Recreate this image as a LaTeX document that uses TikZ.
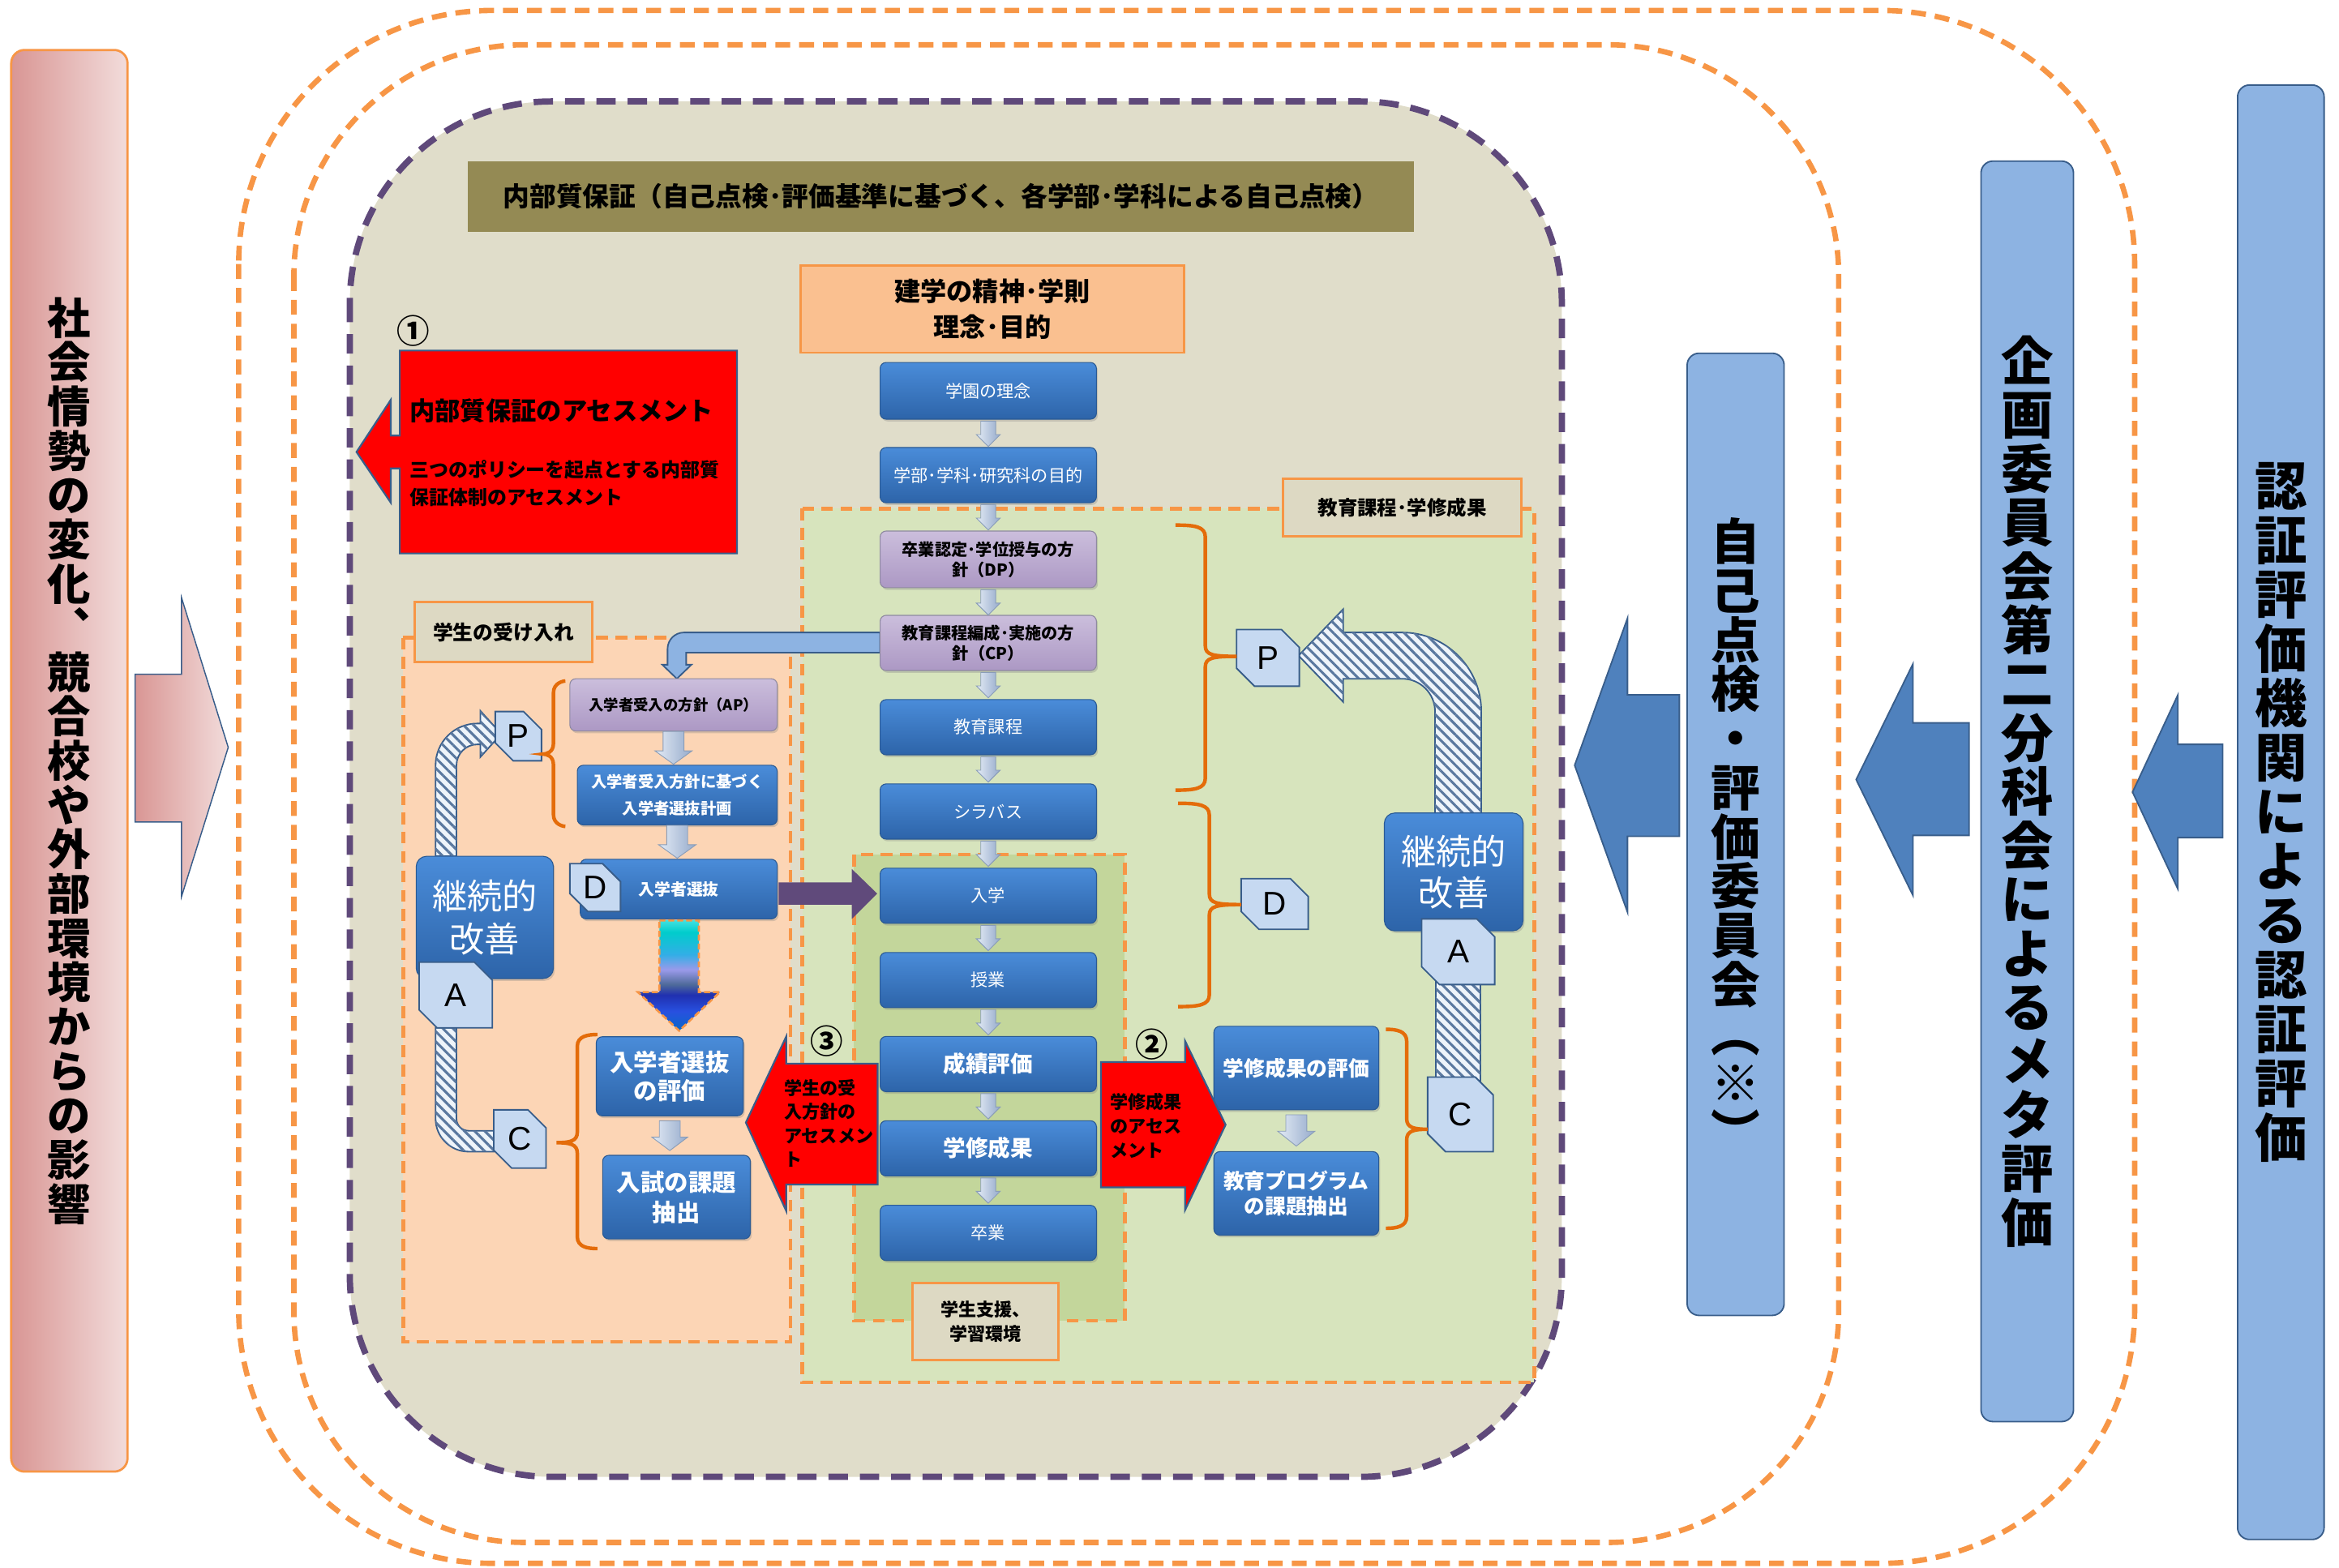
\documentclass[tikz,border=0pt]{standalone}
\usepackage{fontspec}
\setmainfont{Noto Sans CJK JP}
\newfontfamily\latinfont{Liberation Sans}
\usetikzlibrary{calc,shapes.misc,shadows,patterns.meta}
\newcommand\fsz[2]{\fontsize{#1}{#2}\selectfont}

\definecolor{orangeline}{HTML}{F79646}
\definecolor{purpleline}{HTML}{5F497A}
\definecolor{beige}{HTML}{E0DDCA}
\definecolor{labelbeige}{HTML}{DDD9C3}
\definecolor{olive}{HTML}{948A54}
\definecolor{orangefill}{HTML}{FAC090}
\definecolor{peach}{HTML}{FCD5B5}
\definecolor{greenfill}{HTML}{D7E4BD}
\definecolor{greeninner}{HTML}{C3D69B}
\definecolor{boxtop}{HTML}{4A8CD9}
\definecolor{boxbot}{HTML}{2D64A9}
\definecolor{boxline}{HTML}{2A5A94}
\definecolor{lilactop}{HTML}{CBBEDC}
\definecolor{lilacbot}{HTML}{AC98C4}
\definecolor{lilacline}{HTML}{8F8AA0}
\definecolor{tagfill}{HTML}{C6D9F1}
\definecolor{darkblue}{HTML}{385D8A}
\definecolor{barfill}{HTML}{8DB3E2}
\definecolor{arrowblue}{HTML}{4F81BD}
\definecolor{braceorange}{HTML}{E46C0A}
\definecolor{plum}{HTML}{604A7B}
\definecolor{pinkdark}{HTML}{D99694}
\definecolor{pinklight}{HTML}{F2DCDB}
\definecolor{stripe}{HTML}{5A789F}
\definecolor{stripebg}{HTML}{EEF4FA}
\definecolor{smallarrL}{HTML}{E3EBF5}
\definecolor{smallarrR}{HTML}{95AACB}
\definecolor{smallarrline}{HTML}{8A9DB8}
\definecolor{ga1}{HTML}{40E0E0}
\definecolor{ga2}{HTML}{00CCCC}
\definecolor{ga3}{HTML}{33AEE6}
\definecolor{ga4}{HTML}{9A9AEA}
\definecolor{ga5}{HTML}{4E6A9A}
\definecolor{ga6}{HTML}{2030B0}
\definecolor{ga7}{HTML}{2850E0}
\definecolor{ga8}{HTML}{0868C8}

% colour run of the selection arrow, cyan at the top to blue at the tip
\pgfdeclareverticalshading{selgrad}{100bp}{color(0bp)=(ga8); color(25bp)=(ga8); color(33.8bp)=(ga7); color(41.2bp)=(ga6); color(46bp)=(ga5); color(52.7bp)=(ga4); color(59.5bp)=(ga3); color(69.6bp)=(ga2); color(75bp)=(ga1); color(100bp)=(ga1)}

% right curly bracket: hook end x, spine x, nub x, top y, nub y, bottom y
\newcommand\bracketR[6]{\draw[bracestyle] (#1,#4) .. controls (#2-7,#4) and (#2,#4+1) .. (#2,#4+8) -- (#2,#5-7) .. controls (#2,#5-1) and (#2+5,#5) .. (#3,#5) .. controls (#2+5,#5) and (#2,#5+1) .. (#2,#5+7) -- (#2,#6-8) .. controls (#2,#6-1) and (#2-7,#6) .. (#1,#6);}
% left curly bracket, same arguments
\newcommand\bracketL[6]{\draw[bracestyle] (#1,#4) .. controls (#2+7,#4) and (#2,#4+1) .. (#2,#4+8) -- (#2,#5-7) .. controls (#2,#5-1) and (#2-5,#5) .. (#3,#5) .. controls (#2-5,#5) and (#2,#5+1) .. (#2,#5+7) -- (#2,#6-8) .. controls (#2,#6-1) and (#2+7,#6) .. (#1,#6);}

\tikzset{
  pics/downarr/.style args={#1/#2/#3/#4}{code={
    \shadedraw[left color=smallarrL, right color=smallarrR, draw=smallarrline, line width=0.5pt]
      (-#2,0) -- (#2,0) -- (#2,#3) -- (#1,#3) -- (0,#4) -- (-#1,#3) -- (-#2,#3) -- cycle;}}
}

\begin{document}
\begin{tikzpicture}[x=1pt,y=-1pt,
  bluebox/.style={rounded corners=4pt, draw=boxline, line width=0.6pt, top color=boxtop, bottom color=boxbot,
     text=white, inner sep=0pt, align=center,
     drop shadow={opacity=0.3, shadow xshift=1pt, shadow yshift=-1.5pt}},
  lilacbox/.style={rounded corners=4pt, draw=lilacline, line width=0.6pt, top color=lilactop, bottom color=lilacbot,
     text=black, inner sep=0pt, align=center,
     drop shadow={opacity=0.3, shadow xshift=1pt, shadow yshift=-1.5pt}},
  tagbox/.style={chamfered rectangle, chamfered rectangle corners={north east, south west},
     chamfered rectangle xsep=6pt, chamfered rectangle ysep=6pt, fill=tagfill, draw=darkblue,
     line width=1pt, inner sep=0pt, font=\latinfont\fsz{22}{22}},
  labelbox/.style={draw=orangeline, line width=1.6pt, fill=labelbeige, inner sep=0pt, align=center},
  orangedash/.style={draw=orangeline, line width=3.6pt, dash pattern=on 10pt off 6pt},
  regiondash/.style={draw=orangeline, line width=2.4pt, dash pattern=on 8pt off 5pt},
  bracestyle/.style={draw=braceorange, line width=2.4pt},
  bigarrow/.style={fill=arrowblue, draw=darkblue, line width=1pt},
  redshape/.style={fill=red, draw=darkblue, line width=1.2pt},
  stripes/.style={draw=darkblue, line width=1pt, fill=stripebg,
     postaction={pattern color=stripe, pattern={Lines[angle=-45,distance=4.8pt,line width=1.7pt]}}},
  sidebar/.style={rounded corners=8pt, draw=darkblue, line width=1pt, fill=barfill, inner sep=0pt,
     align=center, text=black},
  circnum/.style={inner sep=0pt, font=\bfseries\fsz{22}{22}},
]
\useasboundingbox (0,0) rectangle (1568,1051);

% ---------- outer frames ----------
\draw[orangedash, rounded corners=170pt] (160,7) rectangle (1431,1048);
\draw[orangedash, rounded corners=155pt] (197,30) rectangle (1232.6,1034);
\draw[fill=beige, draw=purpleline, line width=4.2pt, dash pattern=on 13pt off 8pt, rounded corners=135pt]
  (234.5,68) rectangle (1047,990);

% ---------- left influence bar and arrow ----------
\node[rounded corners=9pt, draw=orangeline, line width=1.5pt, left color=pinkdark, right color=pinklight,
      minimum width=78pt, minimum height=953pt, inner sep=0pt, align=center,
      font=\bfseries\fsz{29}{29.7}] (influence) at (46.5,510)
  {社\\会\\情\\勢\\の\\変\\化\\︑\\競\\合\\校\\や\\外\\部\\環\\境\\か\\ら\\の\\影\\響};
\shadedraw[left color=pinkdark, right color=pinklight, draw=darkblue, line width=0.8pt]
  (90.6,452) -- (121.7,452) -- (121.7,400.7) -- (153,501) -- (121.7,601) -- (121.7,551) -- (90.6,551) -- cycle;

% ---------- right side bars and arrows ----------
\node[sidebar, minimum width=65pt, minimum height=645pt, font=\bfseries\fsz{33}{33}] (jiko) at (1163.5,559.3)
  {自\\己\\点\\検\\・\\評\\価\\委\\員\\会\\︵\\※\\︶};
\node[sidebar, minimum width=62pt, minimum height=845pt, font=\bfseries\fsz{35}{36.1}] (kikaku) at (1359,530.5)
  {企\\画\\委\\員\\会\\第\\二\\分\\科\\会\\に\\よ\\る\\メ\\タ\\評\\価};
\node[sidebar, minimum width=58pt, minimum height=975pt, font=\bfseries\fsz{35}{36.4}] (ninsho) at (1529,544.5)
  {認\\証\\評\\価\\機\\関\\に\\よ\\る\\認\\証\\評\\価};
\draw[bigarrow] (1125.8,465.8) -- (1091,465.8) -- (1091,414.5) -- (1055.6,513) -- (1091,611.4) -- (1091,560.6) -- (1125.8,560.6) -- cycle;
\draw[bigarrow] (1320,484.6) -- (1282.4,484.6) -- (1282.4,445) -- (1244.3,522.6) -- (1282.4,600.3) -- (1282.4,560) -- (1320,560) -- cycle;
\draw[bigarrow] (1490,499) -- (1460,499) -- (1460,465.8) -- (1429.6,531) -- (1460,596) -- (1460,561.5) -- (1490,561.5) -- cycle;

% ---------- title ----------
\node[fill=olive, minimum width=634.5pt, minimum height=47.4pt, inner sep=0pt, font=\bfseries\fsz{17.8}{20}] (title) at (630.75,131.7)
  {内部質保証（自己点検･評価基準に基づく、各学部･学科による自己点検）};

% ---------- regions ----------
\draw[regiondash, fill=peach] (270.3,427.5) rectangle (530,899.5);
\draw[regiondash, fill=greenfill] (537.8,341) rectangle (1028.5,926.6);
\draw[regiondash, fill=greeninner] (572.5,573) rectangle (754,885.4);

\node[labelbox, minimum width=119pt, minimum height=40.4pt, font=\bfseries\fsz{13.5}{16}] (ukeire) at (337.5,423.8) {学生の受け入れ};
\node[labelbox, minimum width=160pt, minimum height=38.5pt, font=\bfseries\fsz{13.3}{16}] (kyoiku) at (940,340.3) {教育課程･学修成果};
\node[labelbox, minimum width=98pt, minimum height=51.6pt, font=\bfseries\fsz{12}{16.5}] (shien) at (660.6,885.8) {学生支援、\\学習環境};

% ---------- founding principles ----------
\node[draw=orangeline, line width=1.5pt, fill=orangefill, minimum width=257pt, minimum height=58.5pt,
      inner sep=0pt, align=center, font=\bfseries\fsz{17.5}{24.3}] (kengaku) at (665.3,207.2)
  {建学の精神･学則\\理念･目的};

% ---------- elbow arrow from CP to AP ----------
\draw[fill=barfill, draw=darkblue, line width=1pt]
  (590,424) -- (458.5,424) .. controls (452.4,424) and (447.5,428.9) .. (447.5,435) -- (447.5,445.6)
  -- (444,445.6) -- (453.75,455) -- (463.5,445.6) -- (460,445.6) -- (460,437.5) -- (590,437.5) -- cycle;

% ---------- central column ----------
\node[bluebox, minimum width=145pt, minimum height=38pt, font=\fsz{11.5}{14}] (rinen) at (662.5,262) {学園の理念};
\node[bluebox, minimum width=145pt, minimum height=37pt, font=\fsz{11.5}{14}] (mokuteki) at (662.5,318.5) {学部･学科･研究科の目的};
\node[lilacbox, minimum width=145pt, minimum height=38pt, font=\bfseries\fsz{11}{13.5}] (dp) at (662.5,375) {卒業認定･学位授与の方\\針（DP）};
\node[lilacbox, minimum width=145pt, minimum height=37pt, font=\bfseries\fsz{11}{13.5}] (cp) at (662.5,431) {教育課程編成･実施の方\\針（CP）};
\node[bluebox, minimum width=145pt, minimum height=37pt, font=\fsz{11.5}{14}] (katei) at (662.5,487.5) {教育課程};
\node[bluebox, minimum width=145pt, minimum height=37pt, font=\fsz{11.5}{14}] (syllabus) at (662.5,544) {シラバス};
\node[bluebox, minimum width=145pt, minimum height=37pt, font=\fsz{11.5}{14}] (nyugaku) at (662.5,600.5) {入学};
\node[bluebox, minimum width=145pt, minimum height=37pt, font=\fsz{11.5}{14}] (jugyo) at (662.5,657) {授業};
\node[bluebox, minimum width=145pt, minimum height=37pt, font=\bfseries\fsz{15}{18}] (seiseki) at (662.5,713.3) {成績評価};
\node[bluebox, minimum width=145pt, minimum height=37pt, font=\bfseries\fsz{15}{18}] (seika) at (662.5,769.8) {学修成果};
\node[bluebox, minimum width=145pt, minimum height=37pt, font=\fsz{11.5}{14}] (sotsugyo) at (662.5,826.5) {卒業};
\foreach \a/\b in {rinen/mokuteki, mokuteki/dp, dp/cp, cp/katei, katei/syllabus, syllabus/nyugaku,
                   nyugaku/jugyo, jugyo/seiseki, seiseki/seika, seika/sotsugyo}
  \pic at ($(\a.south)+(0,1)$) {downarr=8/5/9/17};

% ---------- admissions column ----------
\node[lilacbox, minimum width=139pt, minimum height=35pt, font=\bfseries\fsz{10}{12}] (ap) at (451.5,472.5) {入学者受入の方針（AP）};
\node[bluebox, minimum width=134pt, minimum height=40pt, font=\bfseries\fsz{10.5}{18}] (keikaku) at (454,533) {入学者受入方針に基づく\\入学者選抜計画};
\node[bluebox, minimum width=132pt, minimum height=40pt, font=\bfseries\fsz{10.8}{13}] (senbatsu) at (455,596) {入学者選抜};
\pic at (ap.south) {downarr=12.5/7/13/22};
\pic at (keikaku.south) {downarr=12.5/7/13/22};

\shadedraw[shading=selgrad, draw=orangeline, line width=1.4pt, dash pattern=on 4pt off 2pt]
  (442,617) -- (468.5,617) -- (468.5,665) -- (482.7,665) -- (455.3,691) -- (427.5,665) -- (442,665) -- cycle;

\node[bluebox, minimum width=98.5pt, minimum height=53pt, font=\bfseries\fsz{16}{19}] (hyouka) at (449,721.5) {入学者選抜\\の評価};
\node[bluebox, minimum width=99pt, minimum height=56pt, font=\bfseries\fsz{16}{20}] (kadai) at (453.5,802.5) {入試の課題\\抽出};
\pic at ($(hyouka.south)+(0,3)$) {downarr=12/7/11/20};

% admissions to enrolment
\fill[plum] (522,591.5) -- (571,591.5) -- (571,582.5) -- (588,599) -- (571,616) -- (571,606.5) -- (522,606.5) -- cycle;

% ---------- learning outcome review ----------
\node[bluebox, minimum width=110.5pt, minimum height=56pt, font=\bfseries\fsz{14}{17}] (gkhyouka) at (869,716) {学修成果の評価};
\node[bluebox, minimum width=110.5pt, minimum height=56pt, font=\bfseries\fsz{14}{17.2}] (program) at (869,800) {教育プログラム\\の課題抽出};
\pic at ($(gkhyouka.south)+(0,3)$) {downarr=12.5/7/11/21};

% ---------- PDCA cycle, admissions side ----------
\path[stripes] (292,574) -- (292,513) .. controls (292,497.5) and (304.5,485) .. (320,485) -- (322,485)
  -- (322,476.5) -- (336,492) -- (322,507.5) -- (322,499) -- (320,499)
  .. controls (312.3,499) and (306,505.3) .. (306,513) -- (306,574) -- cycle;
\path[stripes] (292,689) -- (292,750) .. controls (292,762.1) and (301.9,772) .. (314,772) -- (331,772)
  -- (331,758) -- (314,758) .. controls (309.6,758) and (306,754.4) .. (306,750) -- (306,689) -- cycle;
\node[bluebox, rounded corners=7pt, minimum width=92pt, minimum height=82pt, font=\fsz{23.5}{29}] (kaizenL) at (325,615) {継続的\\改善};
\node[tagbox, minimum width=31pt, minimum height=33pt] (PL) at (347.5,493.5) {P};
\node[tagbox, minimum width=34pt, minimum height=32pt] (DL) at (399,595) {D};
\node[tagbox, minimum width=49pt, minimum height=44pt] (AL) at (305.5,667) {A};
\node[tagbox, minimum width=35pt, minimum height=39pt] (CL) at (348.5,763.5) {C};
\bracketL{379}{371}{364}{456.5}{505.5}{554}
\bracketL{400.5}{387}{373}{693.5}{766}{837}

% ---------- PDCA cycle, curriculum side ----------
\path[stripes] (962,545) -- (962,477) .. controls (962,464.9) and (952.1,455) .. (940,455) -- (900.4,455)
  -- (900.4,470.5) -- (870.5,439.5) -- (900.4,408.4) -- (900.4,424) -- (940,424)
  .. controls (969.3,424) and (993,447.7) .. (993,477) -- (993,545) -- cycle;
\path[stripes] (962.4,655) rectangle (992.4,725);
\node[bluebox, rounded corners=7pt, minimum width=93pt, minimum height=79pt, font=\fsz{23.5}{28}] (kaizenR) at (974.5,584.5) {継続的\\改善};
\node[tagbox, minimum width=42pt, minimum height=38pt] (PR) at (850,441) {P};
\node[tagbox, minimum width=45pt, minimum height=34pt] (DR) at (854.5,606) {D};
\node[tagbox, minimum width=49pt, minimum height=44pt] (AR) at (977.5,638) {A};
\node[tagbox, minimum width=44pt, minimum height=50pt] (CR) at (979,747) {C};
\bracketR{788}{808}{829}{352}{440}{529.7}
\bracketR{789.7}{810.7}{832}{538.5}{606.4}{674.8}
\bracketR{929}{943}{957}{690}{757}{823.4}

% ---------- assessment arrows ----------
\draw[redshape] (268,235) -- (494,235) -- (494,371) -- (268,371) -- (268,314) -- (262,314) -- (262,337)
  -- (239,303) -- (262,268) -- (262,292) -- (268,292) -- cycle;
\node[anchor=west, inner sep=0pt, font=\bfseries\fsz{17}{20}] (assess1) at (274.5,275.5) {内部質保証のアセスメント};
\node[anchor=west, inner sep=0pt, align=left, font=\bfseries\fsz{13}{18}] (assess1b) at (274.5,324) {三つのポリシーを起点とする内部質\\保証体制のアセスメント};
\node[circnum] (num1) at (277,222) {①};

\draw[redshape] (588.3,713) -- (527,713) -- (527,695) -- (500,752.5) -- (527,811.6) -- (527,794) -- (588.3,794) -- cycle;
\node[anchor=west, inner sep=0pt, align=left, font=\bfseries\fsz{12}{16}] (assess3) at (525.5,753) {学生の受\\入方針の\\アセスメン\\ト};
\node[circnum] (num3) at (554,698) {③};

\draw[redshape] (738,712) -- (794.5,712) -- (794.5,698) -- (821.6,754) -- (794.5,811) -- (794.5,796) -- (738,796) -- cycle;
\node[anchor=west, inner sep=0pt, align=left, font=\bfseries\fsz{12}{16.3}] (assess2) at (744,754.5) {学修成果\\のアセス\\メント};
\node[circnum] (num2) at (772,700) {②};

\end{tikzpicture}
\end{document}
